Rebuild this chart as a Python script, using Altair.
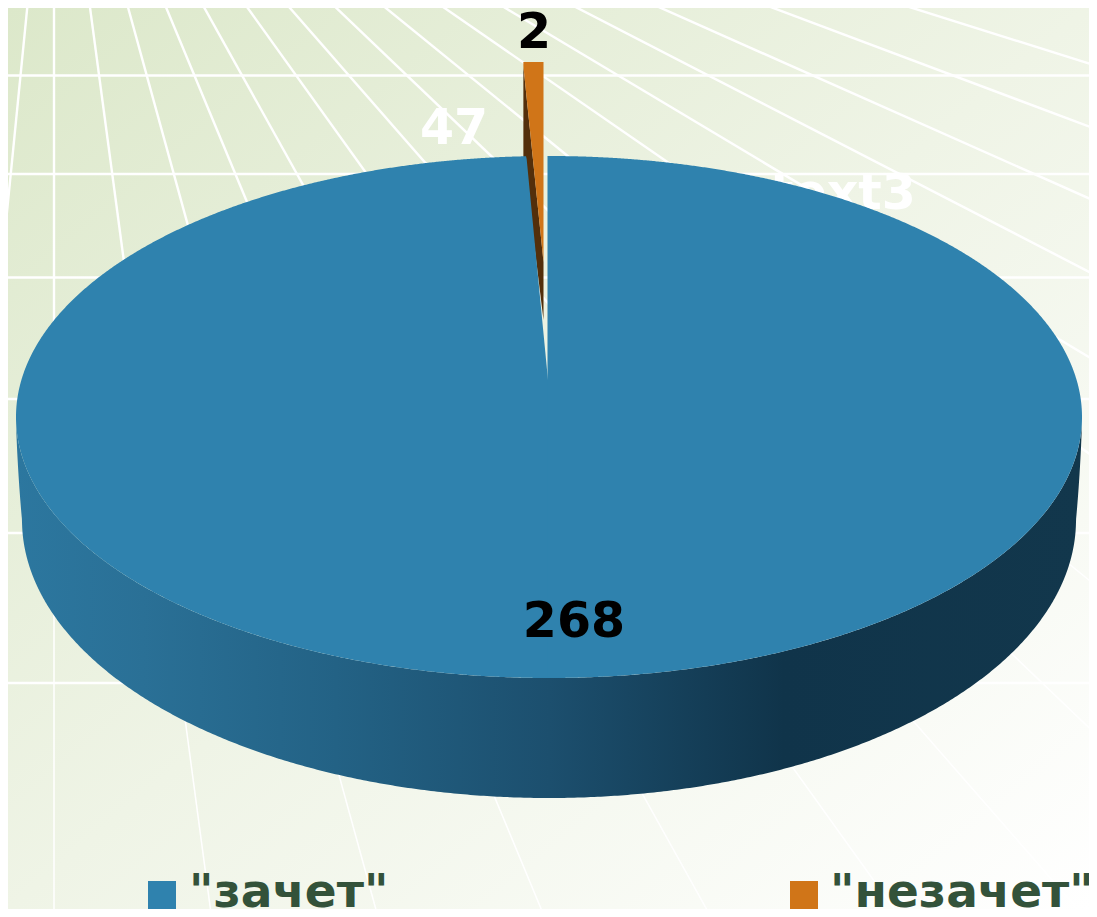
import numpy as np
import pandas as pd
import altair as alt

# ---- chart values ----
categories = ['"зачет"', '"незачет"']
values = [268, 2]
hidden_value = 47
hidden_label = "text3"
colors = ["#2f82ae", "#d07518"]

# ---- 3D pie geometry (reference pixels) ----
CX, CY, RX, RY = 549.0, 417.0, 533.0, 261.0      # top ellipse
BCX, BCY, BRX, BRY = 549.0, 520.0, 527.0, 278.0  # bottom rim ellipse
APEX_X, APEX_Y = 548.0, 380.0                    # pie centre in perspective
GAP_RIGHT = 547.5
EXPLODE = 94.0
VP_X, VP_Y = 54.0, -262.0                        # floor vanishing point
LEFT, TOP, RIGHT, BOTTOM = 8, 8, 1089, 909       # visible page box

total = sum(values) + hidden_value
wedge_w = RX * np.sin(2 * np.pi * values[1] / total)
gap_left = GAP_RIGHT - wedge_w

grid_top_x = [28, 54, 89, 126, 163, 200, 242, 283, 328, 376, 433, 492, 562, 643, 752, 887]
grid_h_y = [75.5, 174, 277.5, 399, 533, 683]

xs = alt.X("x:Q", scale=alt.Scale(domain=[LEFT, RIGHT]), axis=None)
ys = alt.Y("y:Q", scale=alt.Scale(domain=[BOTTOM, TOP]), axis=None)


def top_y(x, sign):
    t = np.clip((x - CX) / RX, -1, 1)
    return CY + sign * RY * np.sqrt(1 - t * t)


def sweep(a, b, n=500):
    return a + (b - a) * (1 - np.cos(np.linspace(0, np.pi, n))) / 2


# background
bg = alt.Chart(pd.DataFrame({"x": [LEFT], "x2": [RIGHT], "y": [TOP], "y2": [BOTTOM]})).mark_rect(
    fill=alt.LinearGradient(
        gradient="linear", x1=0, y1=0, x2=1, y2=1,
        stops=[
            alt.GradientStop(offset=0, color="#dce8ca"),
            alt.GradientStop(offset=0.5, color="#eff4e6"),
            alt.GradientStop(offset=1, color="#ffffff"),
        ],
    )
).encode(x=xs, x2="x2:Q", y=ys, y2="y2:Q")


# floor grid: thicker far away, thinner close to the viewer
def radial_part(y0, y1, width):
    px = lambda v, y: VP_X + (v - VP_X) * (y - VP_Y) / (0 - VP_Y)
    d = pd.DataFrame({
        "x": [px(v, y0) for v in grid_top_x],
        "x2": [px(v, y1) for v in grid_top_x],
        "y": [y0] * len(grid_top_x),
        "y2": [y1] * len(grid_top_x),
    })
    return alt.Chart(d).mark_rule(color="white", strokeWidth=width, clip=True).encode(
        x=xs, x2="x2:Q", y=ys, y2="y2:Q")


radial_far = radial_part(0, 560, 2.4)
radial_near = radial_part(560, BOTTOM, 1.5)
hor = pd.DataFrame({"x": [LEFT] * len(grid_h_y), "x2": [RIGHT] * len(grid_h_y), "y": grid_h_y})
hor_rules = alt.Chart(hor).mark_rule(color="white", strokeWidth=2.6, clip=True).encode(
    x=xs, x2="x2:Q", y=ys)


def text_layer(labels, x, y, color, size=49, align="center"):
    d = pd.DataFrame({"x": x, "y": y, "t": labels})
    return alt.Chart(d).mark_text(
        font="DejaVu Sans", fontWeight="bold", fontSize=size, color=color,
        align=align, baseline="alphabetic",
    ).encode(x=xs, y=ys, text="t:N")


hidden_labels = text_layer([str(hidden_value), hidden_label], [454, 843], [144, 209], "white")

# exploded wedge
wx0, wx1 = gap_left - 3.0, GAP_RIGHT - 4.0
wxs = np.linspace(wx0, wx1, 40)
w_top = np.full_like(wxs, CY - RY - EXPLODE)
w_edge = 66 + (wxs - wx0) / (wx1 - wx0) * (APEX_Y - EXPLODE - 24 - 66)
w_low = CY - RY + (wxs - wx0) / (wx1 - wx0) * 164
dark = alt.Chart(pd.DataFrame({"x": wxs, "y": w_edge, "y2": w_low})).mark_area(color="#532f0b").encode(
    x=xs, y=ys, y2="y2:Q")
orange = alt.Chart(pd.DataFrame({"x": wxs, "y": w_top, "y2": w_edge})).mark_area(color=colors[1]).encode(
    x=xs, y=ys, y2="y2:Q")

# side wall
sx = np.unique(np.concatenate([
    sweep(CX - RX, CX + RX, 500),
    np.linspace(CX - RX, CX - RX + 30, 200),
    np.linspace(CX + RX - 30, CX + RX, 200),
]))
s_top = top_y(sx, 1)
t = np.clip((sx - BCX) / BRX, -1, 1)
s_bot = BCY + BRY * np.sqrt(1 - t * t)
left = sx < BCX - BRX
right = sx > BCX + BRX
s_bot[left] = s_top[left] + (sx[left] - (CX - RX)) / (RX - BRX) * (BCY - s_top[left])
s_bot[right] = s_top[right] + ((CX + RX) - sx[right]) / (RX - BRX) * (BCY - s_top[right])
side = alt.Chart(pd.DataFrame({"x": sx, "y": s_top, "y2": s_bot})).mark_area(
    color=alt.LinearGradient(
        gradient="linear", x1=0, y1=0, x2=1, y2=0,
        stops=[
            alt.GradientStop(offset=0, color="#2c779f"),
            alt.GradientStop(offset=0.12, color="#2a7096"),
            alt.GradientStop(offset=0.3, color="#236285"),
            alt.GradientStop(offset=0.5, color="#1c4f6e"),
            alt.GradientStop(offset=0.72, color="#10344a"),
            alt.GradientStop(offset=1, color="#12374c"),
        ],
    )
).encode(x=xs, y=ys, y2="y2:Q")

# top face, split by the gap the exploded wedge leaves
lx = sweep(CX - RX, APEX_X, 500)
l_top = top_y(lx, -1)
cut = lx > gap_left
edge = (CY - RY) + (lx - gap_left) / (APEX_X - gap_left) * (APEX_Y - (CY - RY))
l_top[cut] = np.maximum(l_top[cut], edge[cut])
face_l = alt.Chart(pd.DataFrame({"x": lx, "y": l_top, "y2": top_y(lx, 1)})).mark_area(color=colors[0]).encode(
    x=xs, y=ys, y2="y2:Q")
rx_ = sweep(GAP_RIGHT, CX + RX, 500)
face_r = alt.Chart(pd.DataFrame({"x": rx_, "y": top_y(rx_, -1), "y2": top_y(rx_, 1)})).mark_area(color=colors[0]).encode(
    x=xs, y=ys, y2="y2:Q")

# data labels
labels = text_layer([str(values[1]), str(values[0])], [534, 574], [48, 637], "black")

# legend
sq = pd.DataFrame({"x": [148, 790], "x2": [176, 818], "y": [881, 881], "y2": [BOTTOM, BOTTOM], "c": colors})
leg_sq = alt.Chart(sq).mark_rect().encode(
    x=xs, x2="x2:Q", y=ys, y2="y2:Q", color=alt.Color("c:N", scale=None))
leg_txt = text_layer(categories, [189, 830], [907, 907], "#33523a", size=47, align="left")

chart = alt.layer(
    bg, radial_far, radial_near, hor_rules, hidden_labels, dark, orange, side, face_l, face_r,
    labels, leg_sq, leg_txt,
).properties(
    width=RIGHT - LEFT, height=BOTTOM - TOP, padding=0,
    autosize=alt.AutoSizeParams(type="none"),
).configure_view(stroke=None)

chart.save("out.html", embed_options={"renderer": "svg", "actions": False})
